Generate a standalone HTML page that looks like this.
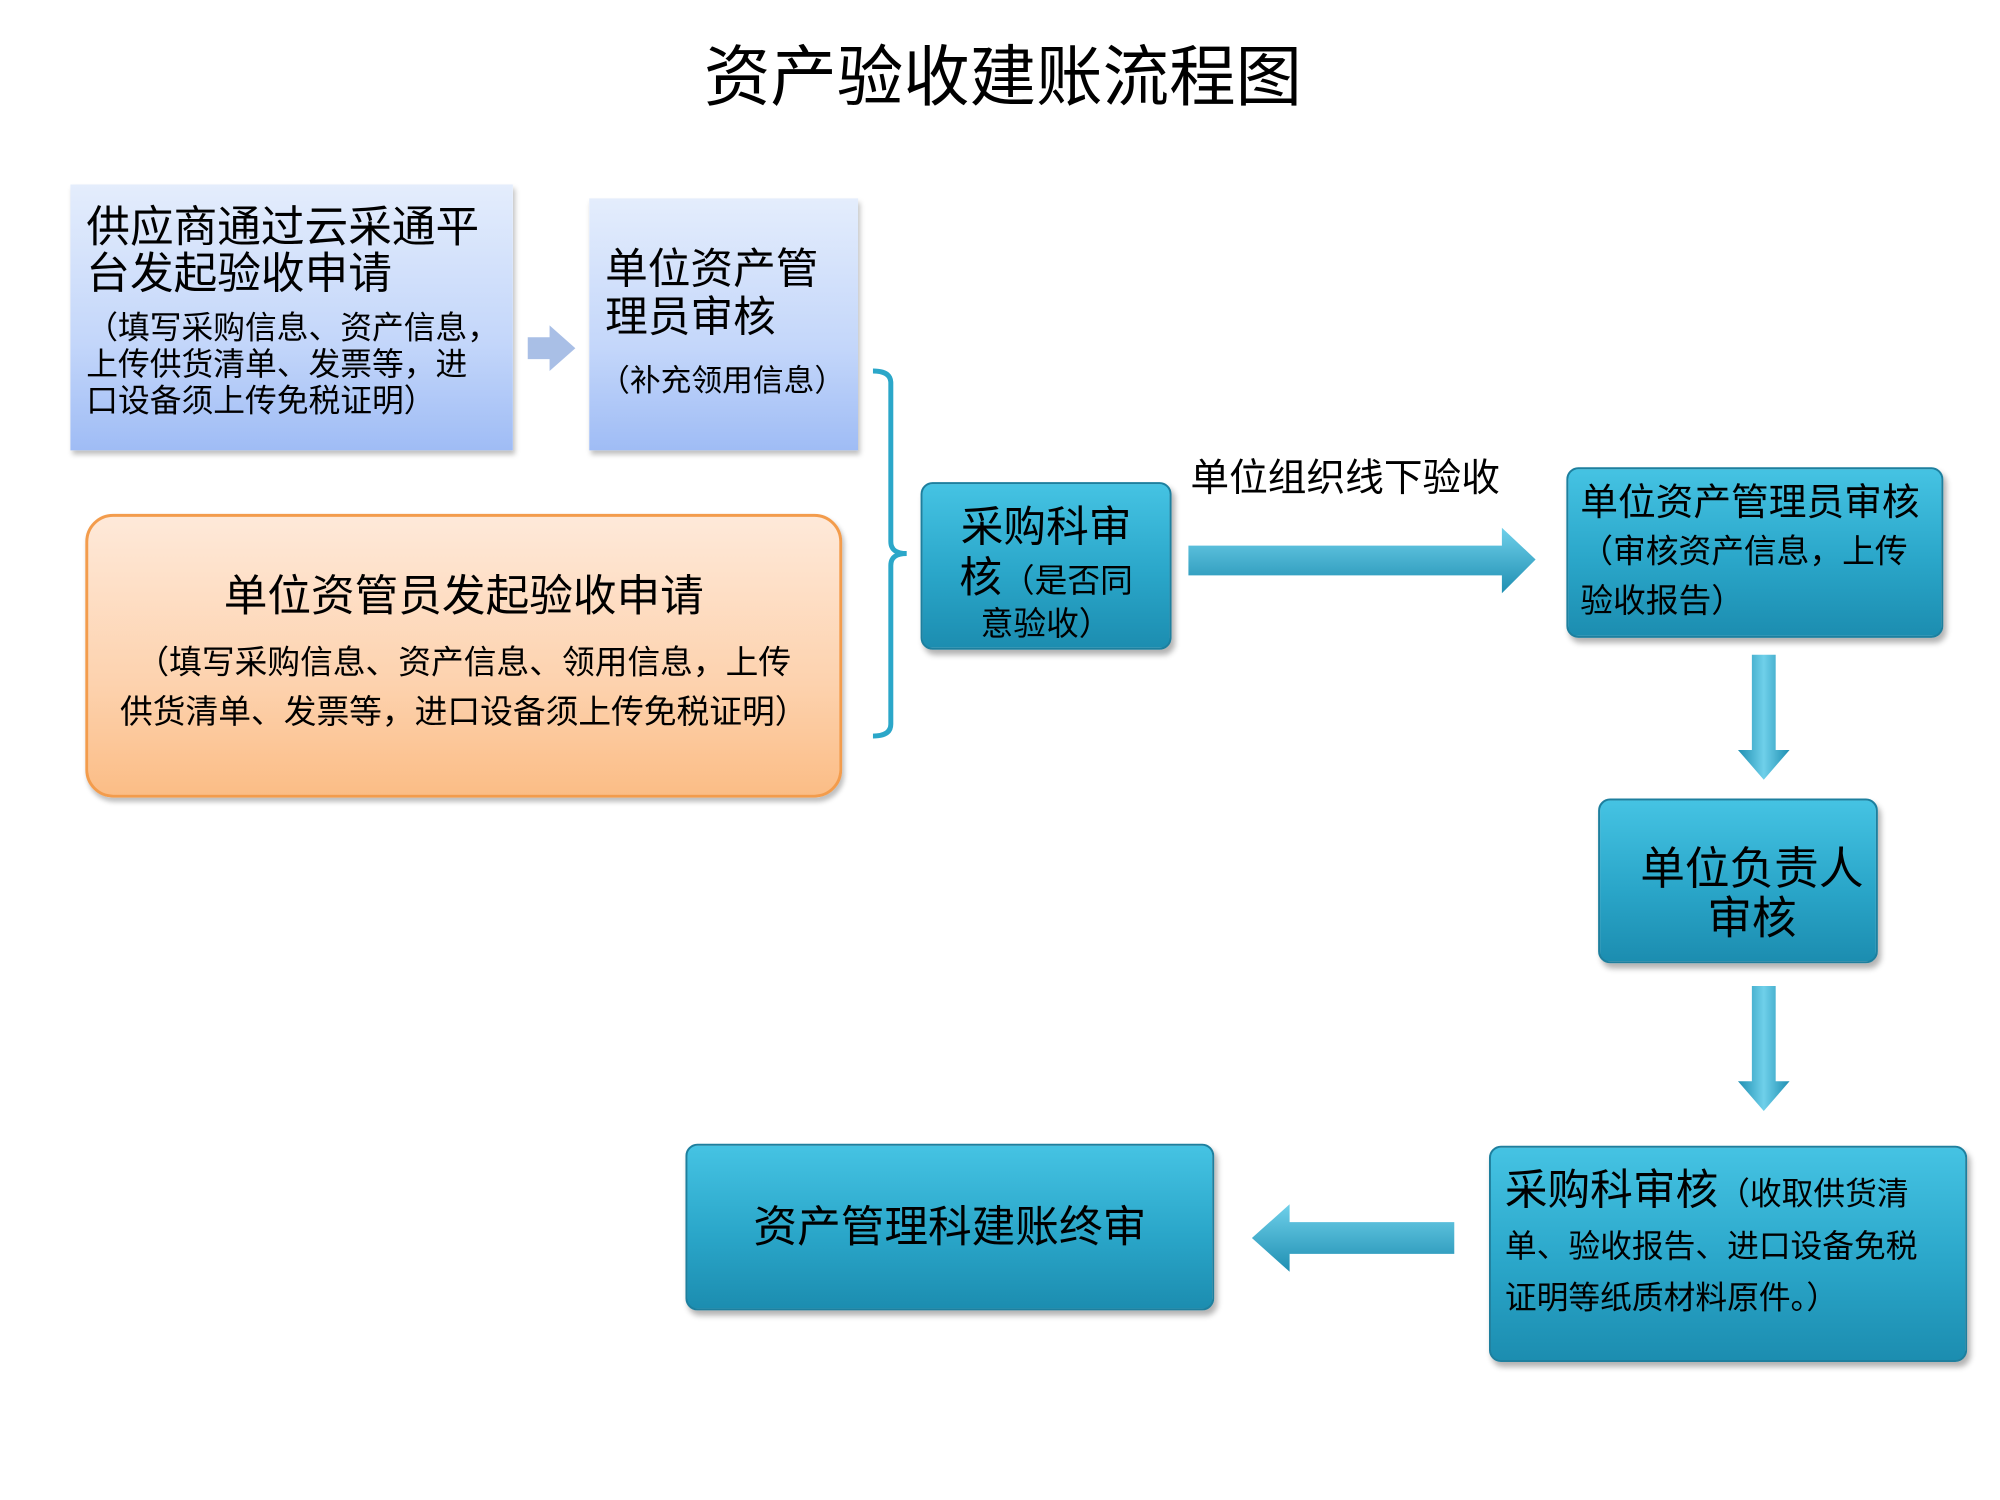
<!DOCTYPE html>
<html><head><meta charset="utf-8"><style>
body{margin:0;width:2000px;height:1500px;background:#fff;position:relative;overflow:hidden;font-family:"Liberation Sans","Noto Sans CJK SC",sans-serif;color:#000}
#w{position:absolute;left:0;top:0;width:2000px;height:1500px;transform:scale(0.992);transform-origin:0 0}
.a{position:absolute;box-sizing:border-box}
.t{background:linear-gradient(#45c3e3,#2aa6c9 55%,#1c8db0);border:2px solid #1d7f9e;border-radius:12px;box-shadow:3px 5px 6px rgba(0,0,0,.3)}
.b{background:linear-gradient(#e4edfc,#c3d6fa 60%,#9fbcf5);box-shadow:2px 4px 5px rgba(0,0,0,.25)}
.o{background:linear-gradient(#fee9d9,#fdd2ae 60%,#fbbd86);border:3px solid #f39c4c;border-radius:28px;box-shadow:2px 4px 5px rgba(0,0,0,.25)}
p{margin:0}
</style></head><body><div id="w">
<div class="a" style="left:0;width:2000px;top:40px;text-align:center;font-size:67px;line-height:78px;padding-left:22px">资产验收建账流程图</div>

<div class="a b" style="left:71px;top:186px;width:446px;height:268px;padding:20px 0 0 16px">
<p style="font-size:44px;line-height:47px;white-space:nowrap">供应商通过云采通平<br>台发起验收申请</p>
<p style="font-size:32px;line-height:37px;margin-top:12px;white-space:nowrap">（填写采购信息、资产信息，<br>上传供货清单、发票等，进<br>口设备须上传免税证明）</p>
</div>
<svg class="a" style="left:528px;top:326px" width="56" height="50"><polygon points="4,14 26,14 26,2 52,25 26,48 26,36 4,36" fill="#a9bfe6"/></svg>
<div class="a b" style="left:594px;top:200px;width:271px;height:254px;padding:48px 0 0 16px">
<p style="font-size:43px;line-height:48px;white-space:nowrap">单位资产管<br>理员审核</p>
<p style="font-size:31px;line-height:36px;margin-top:22px;white-space:nowrap;margin-left:-6px">（补充领用信息）</p>
</div>

<div class="a o" style="left:86px;top:518px;width:763px;height:286px;text-align:center;padding-top:54px">
<p style="font-size:44px;line-height:54px">单位资管员发起验收申请</p>
<p style="font-size:33px;line-height:50px;margin-top:14px;white-space:nowrap">（填写采购信息、资产信息、领用信息，上传<br>供货清单、发票等，进口设备须上传免税证明）</p>
</div>

<svg class="a" style="left:876px;top:368px" width="45" height="380"><path d="M4,6 Q22,6 22,18 L22,178 Q22,190 38,190 Q22,190 22,202 L22,362 Q22,374 4,374" fill="none" stroke="#2ba7c9" stroke-width="5"/></svg>

<div class="a t" style="left:928px;top:486px;width:253px;height:169px;padding-top:18px;text-align:center">
<p style="font-size:43px;line-height:52px">采购科审</p>
<p style="font-size:43px;line-height:50px;white-space:nowrap">核<span style="font-size:33px">（是否同</span></p>
<p style="font-size:33px;line-height:36px">意验收）</p>
</div>
<div class="a" style="left:1200px;top:460px;font-size:39px;line-height:46px;white-space:nowrap">单位组织线下验收</div>
<svg class="a" style="left:1196px;top:528px" width="356" height="74"><defs><linearGradient id="g1" x1="0" y1="0" x2="0" y2="1"><stop offset="0" stop-color="#6fd0ea"/><stop offset="1" stop-color="#1f8fb2"/></linearGradient></defs><polygon points="2,22 318,22 318,4 352,36 318,70 318,52 2,52" fill="url(#g1)"/></svg>

<div class="a t" style="left:1579px;top:471px;width:380px;height:172px;padding:10px 0 0 12px">
<p style="font-size:38px;line-height:48px;white-space:nowrap">单位资产管理员审核</p>
<p style="font-size:33px;line-height:50px;white-space:nowrap">（审核资产信息，上传<br>验收报告）</p>
</div>
<svg class="a" style="left:1750px;top:658px" width="56" height="134"><defs><linearGradient id="g2" x1="0" y1="0" x2="1" y2="0"><stop offset="0" stop-color="#1f8fb2"/><stop offset=".5" stop-color="#6fd0ea"/><stop offset="1" stop-color="#1f8fb2"/></linearGradient></defs><polygon points="16,2 40,2 40,98 54,98 28,128 2,98 16,98" fill="url(#g2)"/></svg>

<div class="a t" style="left:1611px;top:805px;width:282px;height:166px;text-align:center;padding:44px 0 0 28px">
<p style="font-size:45px;line-height:50px">单位负责人<br>审核</p>
</div>
<svg class="a" style="left:1750px;top:992px" width="56" height="134"><polygon points="16,2 40,2 40,98 54,98 28,128 2,98 16,98" fill="url(#g2)"/></svg>

<div class="a t" style="left:1501px;top:1155px;width:482px;height:218px;padding:16px 0 0 14px">
<p style="font-size:43px;line-height:54px;white-space:nowrap">采购科审核<span style="font-size:32px">（收取供货清</span></p>
<p style="font-size:32px;line-height:52px;white-space:nowrap">单、验收报告、进口设备免税<br>证明等纸质材料原件。）</p>
</div>
<svg class="a" style="left:1258px;top:1210px" width="212" height="76"><polygon points="208,22 42,22 42,4 4,38 42,72 42,54 208,54" fill="url(#g1)"/></svg>

<div class="a t" style="left:691px;top:1153px;width:533px;height:168px;text-align:center;padding-top:56px">
<p style="font-size:44px;line-height:54px">资产管理科建账终审</p>
</div>
</div></body></html>
